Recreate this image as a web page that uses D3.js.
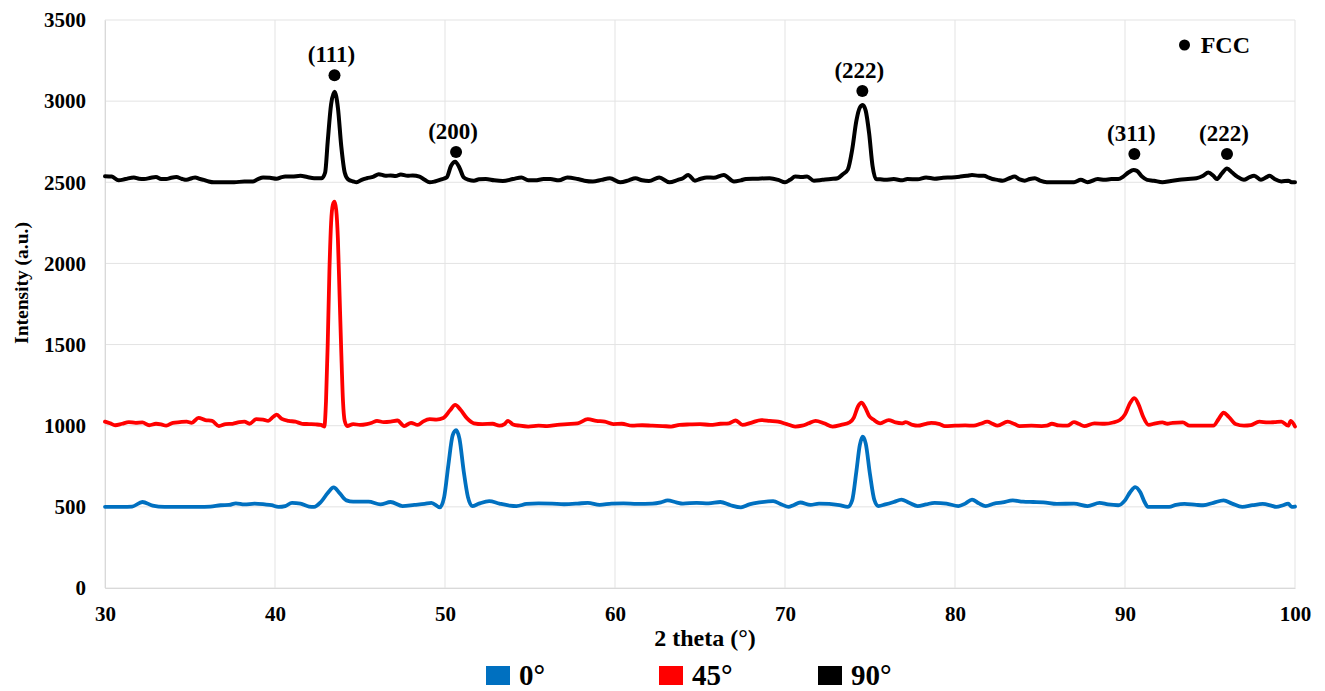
<!DOCTYPE html>
<html>
<head>
<meta charset="utf-8">
<script src="https://cdn.jsdelivr.net/npm/d3@7"></script>
<style>
  html, body { margin: 0; padding: 0; background: #fff; }
  svg { display: block; }
  text { font-family: "Liberation Serif", "Times New Roman", serif; font-weight: bold; fill: #000; }
</style>
</head>
<body>
<svg id="chart" width="1325" height="691"></svg>
<script>
// XRD patterns, [2θ (°), intensity (a.u.)], offset vertically per orientation
const pattern0 = [
  [30,500],[31,500],[31.6,502],[32.2,530],[32.8,508],[33.5,500],[34.5,500],[35.5,500],[36.2,502],[36.8,510],
  [37.3,512],[37.7,522],[38.2,515],[38.8,520],[39.4,515],[39.8,510],[40.2,500],[40.6,505],[41.0,525],[41.5,520],
  [42.0,502],[42.3,500],[42.7,530],[43.1,585],[43.45,620],[43.8,585],[44.2,540],[44.6,532],[45.5,532],[46.2,515],
  [46.8,530],[47.5,505],[48.2,512],[48.8,518],[49.2,525],[49.7,497],[49.95,560],[50.2,760],[50.45,940],[50.65,972],
  [50.85,920],[51.1,720],[51.35,560],[51.6,505],[52.0,520],[52.6,535],[53.2,520],[53.8,508],[54.2,505],[54.8,518],
  [55.5,522],[56.3,520],[57,516],[57.8,520],[58.4,525],[59.1,512],[59.8,520],[60.5,522],[61.3,518],[62.2,520],
  [62.7,528],[63.1,540],[63.6,528],[64.0,520],[64.8,525],[65.5,522],[66.2,530],[66.8,510],[67.4,497],[67.9,515],
  [68.5,527],[69.3,535],[69.8,515],[70.2,500],[70.5,510],[70.9,527],[71.5,512],[72,520],[72.6,518],[73.2,510],
  [73.7,500],[73.95,540],[74.2,720],[74.4,880],[74.57,932],[74.75,890],[75.0,700],[75.25,545],[75.5,505],[75.9,515],
  [76.4,530],[76.85,545],[77.3,525],[77.8,505],[78.3,515],[78.8,525],[79.5,520],[80.2,505],[80.6,520],[81.0,545],
  [81.4,522],[81.8,505],[82.3,520],[82.8,527],[83.4,540],[84.0,532],[84.6,530],[85.2,528],[86,518],[87,520],
  [87.8,505],[88.5,525],[89.0,515],[89.6,510],[90.0,540],[90.3,590],[90.6,622],[90.9,590],[91.15,530],[91.35,500],
  [92.6,500],[93.0,512],[93.5,518],[94.2,512],[94.6,510],[95.2,525],[95.8,540],[96.3,520],[96.9,500],[97.5,510],
  [98.1,518],[98.6,508],[98.9,500],[99.3,510],[99.6,520],[99.8,500],[100,502]
];

const pattern45 = [
  [30,1025],[30.3,1015],[30.6,1003],[31.0,1012],[31.4,1022],[31.8,1018],[32.2,1020],[32.6,1003],[33.0,1012],[33.3,1008],
  [33.6,1000],[34.0,1018],[34.4,1022],[34.8,1025],[35.1,1018],[35.5,1048],[35.9,1035],[36.3,1030],[36.7,998],[37.1,1010],
  [37.5,1012],[37.9,1022],[38.2,1025],[38.5,1012],[38.9,1040],[39.3,1038],[39.6,1030],[39.9,1055],[40.1,1068],[40.4,1042],
  [40.8,1030],[41.2,1025],[41.6,1012],[42.0,1010],[42.4,1008],[42.7,1005],[42.9,995],[43.0,1150],[43.1,1500],[43.2,1950],
  [43.3,2250],[43.4,2360],[43.5,2380],[43.6,2330],[43.7,2150],[43.8,1800],[43.9,1450],[44.0,1150],[44.1,1030],[44.25,998],
  [44.6,1010],[45.0,1005],[45.4,1010],[45.7,1018],[46.0,1030],[46.4,1022],[46.8,1025],[47.2,1032],[47.6,998],[48.0,1018],
  [48.4,1005],[48.7,1025],[49.1,1040],[49.5,1038],[49.9,1048],[50.3,1095],[50.6,1128],[50.9,1100],[51.3,1045],[51.7,1015],
  [52.2,1010],[52.8,1012],[53.2,1000],[53.5,1010],[53.7,1030],[54.0,1008],[54.4,1000],[54.9,995],[55.5,1000],[56.0,998],
  [56.6,1005],[57.2,1010],[57.8,1015],[58.4,1040],[58.9,1030],[59.4,1025],[59.9,1010],[60.4,1012],[61.0,1000],[61.6,1003],
  [62.2,1000],[62.8,998],[63.3,995],[63.8,1005],[64.4,1008],[65.0,1010],[65.6,1005],[66.2,1012],[66.7,1015],[67.1,1032],
  [67.5,1005],[68.0,1018],[68.6,1035],[69.1,1030],[69.6,1025],[70.1,1010],[70.6,995],[71.0,1000],[71.4,1015],[71.8,1030],
  [72.3,1015],[72.8,995],[73.3,1005],[73.8,1020],[74.05,1050],[74.3,1120],[74.5,1142],[74.7,1115],[74.95,1060],[75.2,1038],
  [75.6,1015],[76.1,1035],[76.5,1020],[76.9,1015],[77.1,1022],[77.5,1005],[77.8,1000],[78.3,1012],[78.6,1018],[79.1,1010],
  [79.4,998],[80.0,1000],[80.6,1002],[81.1,1000],[81.5,1012],[81.9,1025],[82.2,1012],[82.5,1000],[83.1,1025],[83.5,1010],
  [83.8,998],[84.5,1000],[85.1,998],[85.4,1000],[85.7,1012],[86.1,1002],[86.6,1000],[87.0,1022],[87.3,1010],[87.6,998],
  [88.2,1015],[88.8,1012],[89.3,1020],[89.7,1035],[90.0,1070],[90.3,1140],[90.55,1170],[90.8,1130],[91.05,1060],[91.4,1005],
  [91.8,1015],[92.2,1020],[92.5,1012],[92.8,1018],[93.4,1020],[93.8,1000],[94.5,1000],[95.2,1000],[95.5,1040],[95.8,1080],
  [96.1,1055],[96.5,1010],[97.0,1000],[97.4,1003],[97.9,1025],[98.4,1020],[98.8,1022],[99.2,1025],[99.6,1000],[99.75,1030],
  [100,995]
];

const pattern90 = [
  [30,2537],[30.4,2535],[30.8,2512],[31.2,2520],[31.7,2530],[32.0,2522],[32.3,2520],[32.7,2528],[33.0,2532],[33.3,2520],
  [33.6,2520],[33.9,2528],[34.2,2532],[34.5,2522],[34.8,2515],[35.1,2525],[35.3,2530],[35.6,2520],[35.8,2515],[36.1,2505],
  [36.4,2500],[37.0,2500],[37.6,2500],[38.2,2505],[38.7,2505],[39.0,2520],[39.3,2530],[39.7,2528],[40.1,2522],[40.4,2532],
  [40.6,2535],[41.0,2535],[41.5,2540],[41.9,2532],[42.3,2525],[42.75,2525],[42.95,2560],[43.1,2750],[43.3,2980],[43.5,3058],
  [43.7,2960],[43.9,2720],[44.1,2560],[44.3,2518],[44.6,2505],[44.8,2500],[45.1,2515],[45.4,2525],[45.8,2535],[46.1,2550],
  [46.5,2540],[46.8,2542],[47.1,2538],[47.4,2548],[47.8,2540],[48.1,2542],[48.5,2535],[48.8,2515],[49.1,2500],[49.4,2505],
  [49.8,2518],[50.1,2530],[50.35,2600],[50.6,2627],[50.85,2590],[51.1,2530],[51.4,2515],[51.7,2510],[52.0,2518],[52.4,2520],
  [52.9,2512],[53.4,2508],[54.0,2520],[54.5,2530],[54.9,2512],[55.3,2512],[55.8,2520],[56.2,2520],[56.7,2512],[57.2,2530],
  [57.8,2520],[58.2,2510],[58.7,2505],[59.2,2515],[59.7,2525],[60.3,2500],[60.8,2512],[61.2,2525],[61.6,2512],[62.0,2508],
  [62.6,2530],[63.2,2500],[63.7,2515],[64.0,2525],[64.3,2545],[64.7,2510],[65.0,2520],[65.4,2530],[65.8,2528],[66.4,2545],
  [67.0,2505],[67.4,2512],[67.7,2520],[68.3,2522],[69.1,2525],[69.6,2515],[70.0,2500],[70.3,2515],[70.6,2535],[71.0,2532],
  [71.3,2535],[71.7,2510],[72.2,2515],[72.7,2520],[73.1,2525],[73.4,2550],[73.7,2580],[73.95,2700],[74.2,2880],[74.4,2960],
  [74.57,2976],[74.75,2940],[74.95,2800],[75.15,2600],[75.35,2520],[75.6,2518],[75.9,2515],[76.4,2520],[76.9,2512],[77.2,2520],
  [77.8,2518],[78.3,2530],[78.8,2522],[79.3,2528],[79.8,2530],[80.3,2535],[80.7,2540],[81.0,2545],[81.4,2540],[81.7,2540],
  [82.0,2528],[82.2,2520],[82.5,2515],[82.8,2510],[83.2,2525],[83.5,2535],[83.8,2518],[84.1,2510],[84.4,2520],[84.7,2525],
  [85.0,2510],[85.4,2500],[86.2,2500],[87.0,2500],[87.4,2515],[87.8,2500],[88.4,2520],[88.8,2515],[89.2,2520],[89.6,2520],
  [89.9,2535],[90.2,2560],[90.5,2575],[90.7,2570],[91.0,2535],[91.3,2515],[91.7,2510],[92.2,2500],[92.7,2508],[93.2,2515],
  [93.7,2520],[94.2,2525],[94.6,2540],[94.9,2560],[95.2,2540],[95.4,2520],[95.7,2555],[96.0,2585],[96.3,2560],[96.6,2535],
  [97.0,2515],[97.3,2530],[97.6,2540],[98.0,2515],[98.3,2530],[98.5,2540],[98.8,2520],[99.2,2505],[99.6,2510],[99.8,2500],
  [100,2500]
];

const seriesNames = ["0°", "45°", "90°"];
const seriesColors = ["#0070C0", "#FF0000", "#000000"];

// FCC reflections marked above the 90° pattern
const peakLabels = ["(111)", "(200)", "(222)", "(311)", "(222)"];
const peakTheta  = [43.5, 50.65, 74.55, 90.55, 96.0];
const peakMarkY  = [3160, 2687, 3062, 2674, 2674];

const xTicks = [30, 40, 50, 60, 70, 80, 90, 100];
const yTicks = [0, 500, 1000, 1500, 2000, 2500, 3000, 3500];

const margin = { left: 105, right: 30, top: 20, bottom: 103 };
const W = 1325, H = 691;
const svg = d3.select("#chart");

const x = d3.scaleLinear().domain([30, 100]).range([margin.left, W - margin.right]);
const y = d3.scaleLinear().domain([0, 3500]).range([H - margin.bottom, margin.top]);

// gridlines
const grid = svg.append("g");
grid.selectAll("line.v").data(xTicks).join("line")
  .attr("x1", d => x(d)).attr("x2", d => x(d))
  .attr("y1", y(0)).attr("y2", y(3500))
  .attr("stroke", "#e3e3e3").attr("stroke-width", 1);
grid.selectAll("line.h").data(yTicks).join("line")
  .attr("x1", x(30)).attr("x2", x(100))
  .attr("y1", d => y(d)).attr("y2", d => y(d))
  .attr("stroke", "#e3e3e3").attr("stroke-width", 1);

// axes (labels only, light baseline)
const xAxis = svg.append("g").attr("transform", `translate(0,${y(0)})`)
  .call(d3.axisBottom(x).tickValues(xTicks).tickSize(0).tickPadding(18).tickFormat(d3.format("d")));
xAxis.select(".domain").attr("stroke", "#d9d9d9");
xAxis.selectAll("text").style("font-size", "21px").style("font-family", "Liberation Serif").style("font-weight", "bold");

const yAxis = svg.append("g").attr("transform", `translate(${x(30)},0)`)
  .call(d3.axisLeft(y).tickValues(yTicks).tickSize(0).tickPadding(19).tickFormat(d3.format("d")));
yAxis.select(".domain").attr("stroke", "#d9d9d9");
yAxis.selectAll("text").style("font-size", "21px").style("font-family", "Liberation Serif").style("font-weight", "bold");

// patterns
const line = d3.line().x(d => x(d[0])).y(d => y(d[1])).curve(d3.curveMonotoneX);
[pattern0, pattern45, pattern90].forEach((p, i) => {
  svg.append("path").datum(p)
    .attr("d", line)
    .attr("fill", "none")
    .attr("stroke", seriesColors[i])
    .attr("stroke-width", i === 2 ? 4 : 3.8)
    .attr("stroke-linejoin", "round")
    .attr("stroke-linecap", "round");
});

// peak markers and Miller indices
const ann = svg.append("g");
peakTheta.forEach((t, i) => {
  ann.append("circle").attr("cx", x(t)).attr("cy", y(peakMarkY[i])).attr("r", 6).attr("fill", "#000");
  ann.append("text").attr("x", x(t) - 3).attr("y", y(peakMarkY[i]) - 13)
    .attr("text-anchor", "middle").style("font-size", "23px").text(peakLabels[i]);
});

// phase key
ann.append("circle").attr("cx", x(93.5)).attr("cy", y(3346)).attr("r", 5.5).attr("fill", "#000");
ann.append("text").attr("x", x(94.45)).attr("y", y(3346) + 8).style("font-size", "24px").text("FCC");

// axis titles
svg.append("text").attr("x", (x(30) + x(100)) / 2 + 5).attr("y", 646)
  .attr("text-anchor", "middle").style("font-size", "24px").text("2 theta (°)");
svg.append("text").attr("transform", "translate(28,283) rotate(-90)")
  .attr("text-anchor", "middle").style("font-size", "19.5px").text("Intensity (a.u.)");

// legend
const legendX = [486, 659, 818];
const leg = svg.append("g");
seriesNames.forEach((n, i) => {
  leg.append("rect").attr("x", legendX[i]).attr("y", 666).attr("width", 24).attr("height", 19).attr("fill", seriesColors[i]);
  leg.append("text").attr("x", legendX[i] + 33).attr("y", 685).style("font-size", "29px").text(n);
});
</script>
</body>
</html>
